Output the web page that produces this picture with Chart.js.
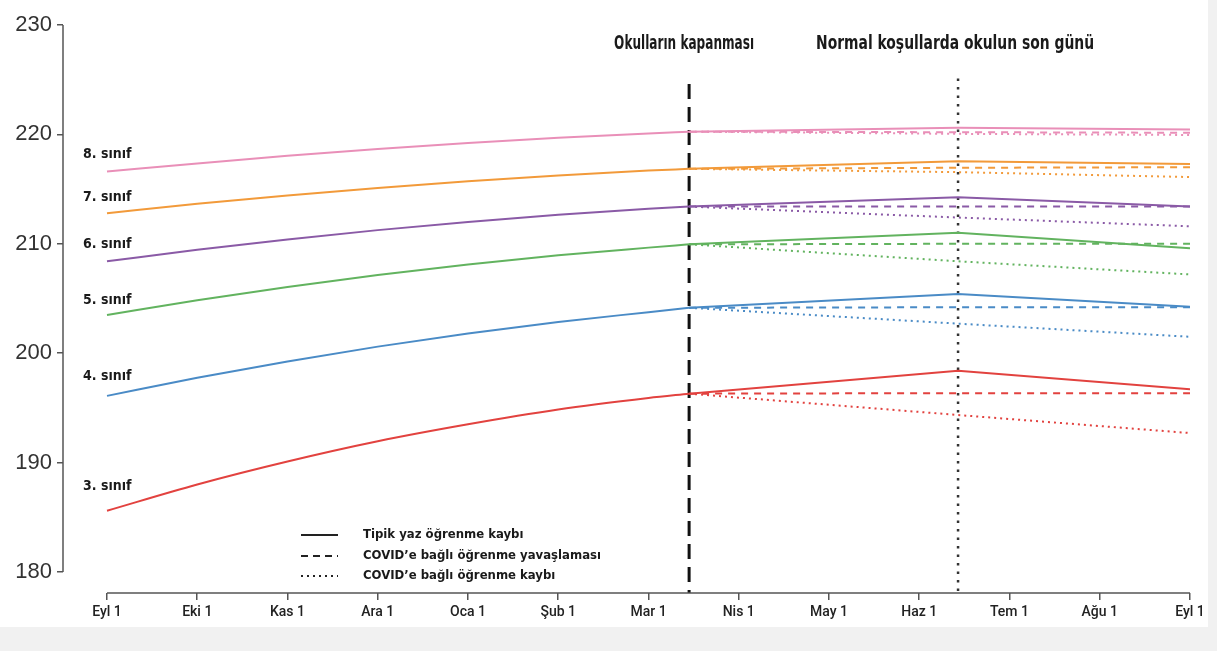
<!DOCTYPE html>
<html>
<head>
<meta charset="utf-8">
<script src="https://cdn.jsdelivr.net/npm/chart.js@4"></script>
<style>
  html, body { margin:0; padding:0; background:#f1f1f1; }
  #wrap { position:relative; width:1217px; height:651px; overflow:hidden; }
  #paper { position:absolute; left:0; top:0; width:1208px; height:627px; background:#fff; }
  #c { position:absolute; left:0; top:0; }
</style>
</head>
<body>
<div id="wrap">
  <div id="paper"></div>
  <canvas id="c" width="1217" height="651"></canvas>
</div>
<script>
// ---------- DATA ----------
const monthLabels = ["Eyl 1","Eki 1","Kas 1","Ara 1","Oca 1","Şub 1","Mar 1","Nis 1","May 1","Haz 1","Tem 1","Ağu 1","Eyl 1"];
const monthPositions = [0,1,2,3,4,5,6,7,8,9,10,11,12];
const yTickValues = [180,190,200,210,220,230];
const closureX = 6.45;   // Okulların kapanması
const lastDayX = 9.43;   // Normal koşullarda okulun son günü
const gradeNames = ["3. sınıf","4. sınıf","5. sınıf","6. sınıf","7. sınıf","8. sınıf"];
const legendLabels = ["Tipik yaz öğrenme kaybı","COVID’e bağlı öğrenme yavaşlaması","COVID’e bağlı öğrenme kaybı"];
const eventLabels = ["Okulların kapanması","Normal koşullarda okulun son günü"];

// x positions for the school-year part (until closure) and after closure
const preX  = [0,1,2,3,4,5,6,closureX];
const postX = [closureX,lastDayX,12];

// school year (solid, until closure)
const g3Pre = [185.6,188.0,190.1,191.95,193.5,194.85,195.9,196.3];
const g4Pre = [196.1,197.75,199.25,200.6,201.8,202.85,203.75,204.15];
const g5Pre = [203.5,204.85,206.05,207.15,208.1,208.95,209.65,209.95];
const g6Pre = [208.4,209.45,210.4,211.25,212.0,212.65,213.2,213.4];
const g7Pre = [212.8,213.65,214.42,215.11,215.72,216.25,216.7,216.85];
const g8Pre = [216.6,217.35,218.05,218.67,219.22,219.69,220.09,220.25];

// typical summer learning loss (solid, after closure)
const g3Typical = [196.3,198.4,196.7];
const g4Typical = [204.15,205.4,204.25];
const g5Typical = [209.95,211.0,209.6];
const g6Typical = [213.4,214.25,213.4];
const g7Typical = [216.85,217.55,217.3];
const g8Typical = [220.25,220.6,220.45];

// COVID learning slowdown (dashed)
const g3Slow = [196.3,196.35,196.35];
const g4Slow = [204.15,204.2,204.2];
const g5Slow = [209.95,210.0,210.0];
const g6Slow = [213.4,213.4,213.4];
const g7Slow = [216.85,216.95,217.0];
const g8Slow = [220.25,220.2,220.15];

// COVID learning loss (dotted)
const g3Loss = [196.3,194.35,192.7];
const g4Loss = [204.15,202.7,201.5];
const g5Loss = [209.95,208.4,207.2];
const g6Loss = [213.4,212.4,211.6];
const g7Loss = [216.85,216.55,216.1];
const g8Loss = [220.25,220.05,219.95];

// vertical event markers (top values)
const closureTop = 224.6;
const lastDayTop = 225.1;

// ---------- BUILD ----------
const colors = ['#e2423f','#4a8bc6','#62b35f','#8a5aa6','#f29a3a','#e98fb8'];
const preSets = [g3Pre,g4Pre,g5Pre,g6Pre,g7Pre,g8Pre];
const typSets = [g3Typical,g4Typical,g5Typical,g6Typical,g7Typical,g8Typical];
const slowSets = [g3Slow,g4Slow,g5Slow,g6Slow,g7Slow,g8Slow];
const lossSets = [g3Loss,g4Loss,g5Loss,g6Loss,g7Loss,g8Loss];
const yMinVisible = 178.08;

const zip = (xs, ys) => xs.map((x,i)=>({x:x, y:ys[i]}));
const datasets = [];
gradeNames.forEach((g,i)=>{
  datasets.push({label:g+' loss', data:zip(postX,lossSets[i]), borderColor:colors[i], borderWidth:2, borderDash:[2,4], tension:0});
  datasets.push({label:g+' slow', data:zip(postX,slowSets[i]), borderColor:colors[i], borderWidth:2, borderDash:[7,6], tension:0});
  datasets.push({label:g+' typ', data:zip(postX,typSets[i]), borderColor:colors[i], borderWidth:2, tension:0});
  datasets.push({label:g, data:zip(preX,preSets[i]), borderColor:colors[i], borderWidth:2, cubicInterpolationMode:'monotone'});
});
datasets.push({label:'closure', data:[{x:closureX,y:closureTop},{x:closureX,y:yMinVisible}], borderColor:'#111', borderWidth:3, borderDash:[15,8], tension:0});
datasets.push({label:'lastday', data:[{x:lastDayX,y:lastDayTop},{x:lastDayX,y:yMinVisible}], borderColor:'#333', borderWidth:2.5, borderDash:[2.5,6], tension:0});

const NARROW = '"Liberation Sans Narrow","DejaVu Sans Condensed","Roboto Condensed",sans-serif';

function fitText(ctx, text, cx, cy, width){
  const w = ctx.measureText(text).width;
  ctx.save();
  ctx.translate(cx, cy);
  ctx.scale(width / w, 1);
  ctx.textAlign = 'center';
  ctx.fillText(text, 0, 0);
  ctx.restore();
}

const overlay = {
  id:'overlay',
  afterDraw(chart){
    const ctx = chart.ctx, xs = chart.scales.x, ys = chart.scales.y, ca = chart.chartArea;
    ctx.save();
    // axis lines
    ctx.strokeStyle = '#555'; ctx.lineWidth = 1.5;
    ctx.beginPath(); ctx.moveTo(ca.left, ys.getPixelForValue(230)); ctx.lineTo(ca.left, ys.getPixelForValue(180)); ctx.stroke();
    ctx.beginPath(); ctx.moveTo(xs.getPixelForValue(0), ca.bottom); ctx.lineTo(xs.getPixelForValue(12), ca.bottom); ctx.stroke();
    // grade labels
    const offs = [-24,-20,-15,-17,-16,-17];
    ctx.fillStyle = '#1a1a1a';
    ctx.font = 'bold 14px ' + NARROW;
    ctx.textBaseline = 'middle'; ctx.textAlign = 'left';
    gradeNames.forEach((g,i)=>{
      ctx.fillText(g, xs.getPixelForValue(0) - 24, ys.getPixelForValue(preSets[i][0]) + offs[i]);
    });
    // event labels
    ctx.font = 'bold 19px ' + NARROW;
    fitText(ctx, eventLabels[0], xs.getPixelForValue(closureX) - 5, 44, 140);
    fitText(ctx, eventLabels[1], xs.getPixelForValue(lastDayX) - 3, 44, 278);
    // legend
    const ly = [535,556,576];
    const dashes = [[],[7,5],[2,4]];
    ctx.font = 'bold 13px ' + NARROW;
    ctx.textAlign = 'left';
    legendLabels.forEach((t,i)=>{
      ctx.strokeStyle = '#222'; ctx.lineWidth = 2; ctx.setLineDash(dashes[i]);
      ctx.beginPath(); ctx.moveTo(301, ly[i]); ctx.lineTo(338, ly[i]); ctx.stroke();
      ctx.setLineDash([]);
      ctx.fillText(t, 363, ly[i]);
    });
    ctx.restore();
  }
};

new Chart(document.getElementById('c'), {
  type:'line',
  data:{datasets:datasets},
  options:{
    responsive:false,
    animation:false,
    events:[],
    layout:{padding:{top:25,right:27,left:0,bottom:0}},
    elements:{point:{radius:0}},
    plugins:{legend:{display:false}, tooltip:{enabled:false}},
    scales:{
      x:{
        type:'linear', min:-0.4875, max:12,
        afterBuildTicks(s){ s.ticks = monthPositions.map(v=>({value:v})); },
        afterFit(s){ s.height = 58; },
        border:{display:false},
        grid:{drawOnChartArea:false, drawTicks:true, tickLength:7, color:'#555', lineWidth:1.5},
        ticks:{autoSkip:false, maxRotation:0, padding:4, color:'#222',
               font:{family:'Roboto,sans-serif', size:14, weight:'500'},
               callback:(v)=>{ const i = monthPositions.indexOf(v); return i>=0 ? monthLabels[i] : ''; }}
      },
      y:{
        type:'linear', min:yMinVisible, max:230,
        afterBuildTicks(s){ s.ticks = yTickValues.map(v=>({value:v})); },
        afterFit(s){ s.width = 63; },
        border:{display:false},
        grid:{drawOnChartArea:false, drawTicks:true, tickLength:6, color:'#555', lineWidth:1.5},
        ticks:{padding:5, color:'#333', font:{family:'"Liberation Sans",Arial,sans-serif', size:22}}
      }
    }
  },
  plugins:[overlay]
});
</script>
</body>
</html>
